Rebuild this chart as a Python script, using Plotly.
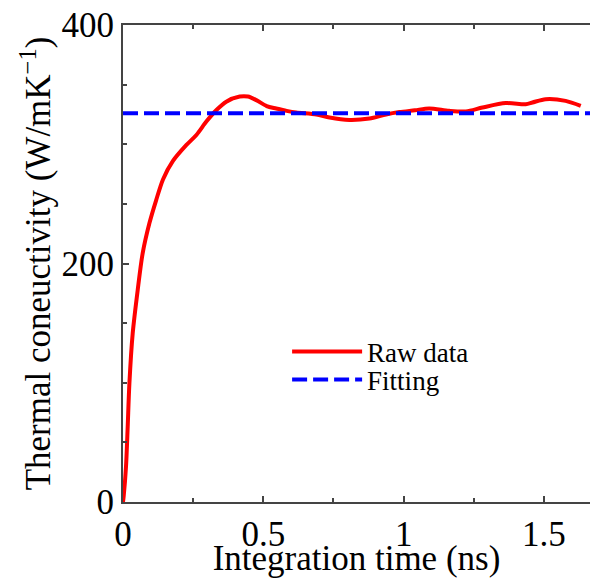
import plotly.graph_objects as go

# Raw data
time_ns = [0, 0.0025, 0.0107, 0.0167, 0.0228, 0.0346, 0.0524, 0.070, 0.094, 0.118,
           0.1425, 0.178, 0.226, 0.2615, 0.297, 0.333, 0.368, 0.416, 0.445, 0.475,
           0.512, 0.546, 0.583, 0.617, 0.689, 0.736, 0.807, 0.878, 0.937, 0.985,
           1.040, 1.091, 1.162, 1.222, 1.281, 1.364, 1.435, 1.459, 1.506, 1.577, 1.631]
kappa_raw = [0, 5, 29.6, 63, 99.5, 141.5, 177.8, 208.5, 233.7, 253,
             270.5, 286, 299.4, 307.8, 319, 328.7, 335.7, 340, 340, 337,
             332, 330, 328, 326.6, 325, 322.4, 320.4, 321.6, 325, 327,
             328.5, 330, 328, 327.5, 330.8, 334.5, 333.6, 335, 337.8, 336.4, 332.2]

fit_x = [0, 1.664]
fit_value = 326

x_ticks = [0, 0.5, 1, 1.5]
x_ticklabels = ["0", "0.5", "1", "1.5"]
y_ticks = [0, 200, 400]
y_ticklabels = ["0", "200", "400"]

FONT = "Liberation Serif"

fig = go.Figure()
fig.add_trace(go.Scatter(
    x=time_ns, y=kappa_raw, mode="lines", name="Raw data",
    line=dict(color="#ff0000", width=4, shape="spline", smoothing=0.8),
    legend="legend",
))
fig.add_trace(go.Scatter(
    x=fit_x, y=[fit_value, fit_value], mode="lines", name="Fitting",
    line=dict(color="#0000ff", width=4, dash="15px,6px"),
    legend="legend2",
))

axis_common = dict(
    showgrid=False, zeroline=False, showline=True, linecolor="#444", linewidth=2,
    ticks="inside", tickcolor="#444", tickwidth=1.5, ticklen=6,
    tickfont=dict(family=FONT, size=35, color="black"),
)

fig.update_layout(
    width=590, height=578,
    margin=dict(l=123, r=0, t=25, b=76),
    paper_bgcolor="white", plot_bgcolor="white",
    font=dict(family=FONT, color="black"),
    xaxis=dict(
        range=[0, 1.664], tickvals=x_ticks, ticktext=x_ticklabels,
        mirror="ticks",
        minor=dict(dtick=0.25, tick0=0, ticks="inside", ticklen=4, tickcolor="#444", tickwidth=1.5),
        title=dict(text="Integration time (ns)", font=dict(family=FONT, size=35), standoff=0),
        **axis_common,
    ),
    yaxis=dict(
        range=[0, 400], tickvals=y_ticks, ticktext=y_ticklabels,
        mirror=False,
        minor=dict(dtick=50, tick0=0, ticks="inside", ticklen=4, tickcolor="#444", tickwidth=1.5),
        title=dict(text="Thermal coneuctivity (W/mK<sup>−1</sup>)", font=dict(family=FONT, size=35), standoff=0),
        **axis_common,
    ),
    legend=dict(
        x=0.3514, y=0.3145, xanchor="left", yanchor="middle", xref="paper", yref="paper",
        bgcolor="rgba(0,0,0,0)", font=dict(family=FONT, size=27, color="black"),
        itemwidth=70,
    ),
    legend2=dict(
        x=0.3514, y=0.2558, xanchor="left", yanchor="middle", xref="paper", yref="paper",
        bgcolor="rgba(0,0,0,0)", font=dict(family=FONT, size=27, color="black"),
        itemwidth=70,
    ),
    showlegend=True,
)

fig.write_html("out.html")
